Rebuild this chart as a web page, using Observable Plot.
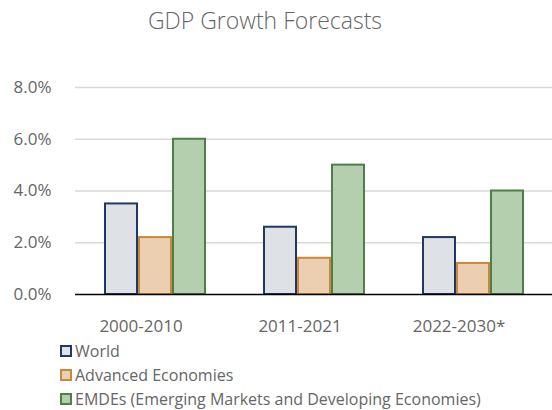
<!DOCTYPE html>
<html>
<head>
<meta charset="utf-8">
<script src="https://cdn.jsdelivr.net/npm/d3@7"></script>
<script src="https://cdn.jsdelivr.net/npm/@observablehq/plot@0.6"></script>
<style>
  html, body { margin: 0; padding: 0; background: white; }
  body { width: 552px; height: 410px; overflow: hidden; font-family: "Open Sans", sans-serif; color: #666; }
  #title { height: 44px; line-height: 40px; text-align: center; padding-right: 22px; font-size: 23px; font-weight: 300; color: #666; }
  #chart svg { display: block; }
  #legend { margin-left: 60px; }
  .row { height: 24px; display: flex; align-items: center; font-size: 16px; color: #666; white-space: nowrap; }
  .sw { width: 8px; height: 8px; border: 2px solid; margin-right: 3px; }
</style>
</head>
<body>
<div id="title">GDP Growth Forecasts</div>
<div id="chart"></div>
<div id="legend"></div>
<script>
const periods = ["2000-2010", "2011-2021", "2022-2030*"];
const series = ["World", "Advanced Economies", "EMDEs (Emerging Markets and Developing Economies)"];
const world = [3.5, 2.6, 2.2];
const advanced = [2.2, 1.4, 1.2];
const emdes = [6.0, 5.0, 4.0];
const yTicks = [0, 2, 4, 6, 8];
const fills = ["#dee2e6", "#ebcfb0", "#b3cfad"];
const strokes = ["#1f3864", "#c8893c", "#517d48"];

const values = [world, advanced, emdes];
const data = periods.flatMap((p, i) => series.map((s, j) => ({period: p, series: s, value: values[j][i]})));

const chart = Plot.plot({
  width: 552,
  height: 295,
  marginLeft: 74,
  marginRight: 0,
  marginTop: 43,
  marginBottom: 45,
  style: {fontFamily: "Open Sans, sans-serif", fontSize: "17px", color: "#666", background: "white", overflow: "visible"},
  fx: {domain: periods, padding: 0, axis: null},
  x: {domain: series, paddingInner: 0.072, paddingOuter: 0.855, axis: null},
  y: {domain: [0, 8], axis: null},
  marks: [
    Plot.axisY({ticks: yTicks, tickFormat: d => d.toFixed(1) + "%", tickSize: 0, tickPadding: 24, label: null, fill: "#666"}),
    Plot.axisFx({anchor: "bottom", tickSize: 0, tickPadding: 25, label: null, dx: -14, fontSize: 17, fill: "#666"}),
    Plot.ruleY(yTicks.filter(d => d > 0), {stroke: "#d9d9d9", strokeWidth: 1.5}),
    ...series.map((s, j) => Plot.barY(data.filter(d => d.series === s), {
      fx: "period", x: "series", y: "value", fill: fills[j], stroke: strokes[j], strokeWidth: 2
    })),
    Plot.ruleY([0], {stroke: "#000", strokeWidth: 1.5})
  ]
});
document.getElementById("chart").append(chart);

const legend = document.getElementById("legend");
series.forEach((s, j) => {
  const row = document.createElement("div");
  row.className = "row";
  const sw = document.createElement("span");
  sw.className = "sw";
  sw.style.background = fills[j];
  sw.style.borderColor = strokes[j];
  const t = document.createElement("span");
  t.textContent = s;
  row.append(sw, t);
  legend.append(row);
});
</script>
</body>
</html>
